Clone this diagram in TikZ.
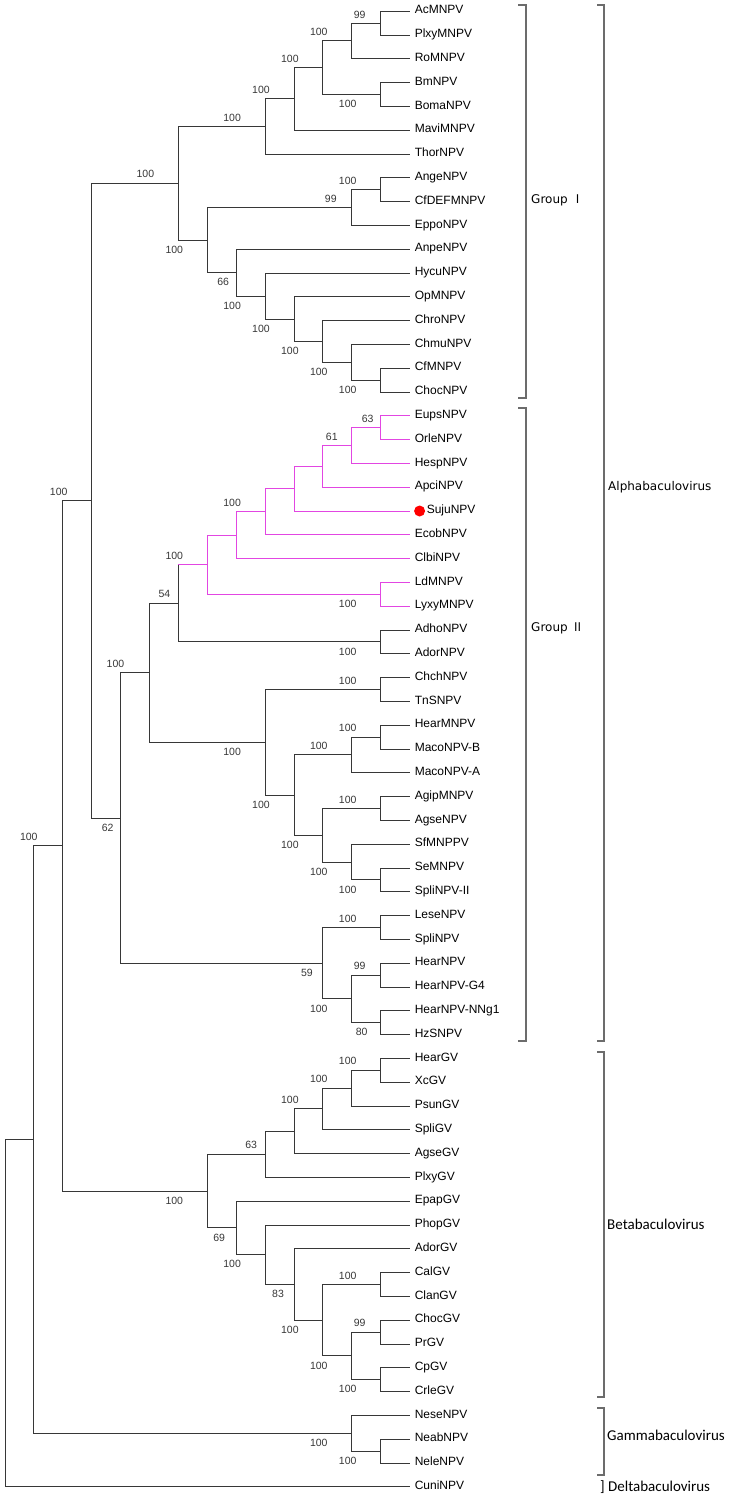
\documentclass[tikz,border=0pt]{standalone}
\usepackage{fontspec}
\setmainfont{Liberation Sans}
\newfontfamily\grpfont{DejaVu Sans}
\newfontfamily\genfont{Carlito}
\newfontfamily\cjkfont{Noto Sans CJK SC}
\definecolor{clade}{RGB}{226,70,226}
\definecolor{branch}{RGB}{55,55,55}
\begin{document}
\begin{tikzpicture}[
    br/.style={draw=branch, line width=1pt},
    mag/.style={draw=clade, line width=1pt},
    leaflbl/.style={anchor=mid west, inner sep=0pt, font=\fontsize{12}{12}\selectfont},
    bsl/.style={inner sep=0pt, text=branch, font=\fontsize{10.5}{10.5}\selectfont},
    bracket/.style={draw=gray!85!black, line width=1.2pt},
    grp/.style={anchor=west, inner sep=0pt, font=\grpfont\fontsize{12}{12}\selectfont},
    gen/.style={anchor=west, inner sep=0pt, font=\genfont\fontsize{15}{15}\selectfont}]
  \useasboundingbox (0pt,0pt) rectangle (732pt,-1497pt);
  \begin{scope}[x=28.9pt, y=-23.8pt, shift={(5pt,-11.2pt)}]
    \foreach \t [count=\i from 0] in {AcMNPV,PlxyMNPV,RoMNPV,BmNPV,BomaNPV,MaviMNPV,ThorNPV,AngeNPV,CfDEFMNPV,EppoNPV,AnpeNPV,HycuNPV,OpMNPV,ChroNPV,ChmuNPV,CfMNPV,ChocNPV,
        EupsNPV,OrleNPV,HespNPV,ApciNPV,SujuNPV,EcobNPV,ClbiNPV,LdMNPV,LyxyMNPV,AdhoNPV,AdorNPV,ChchNPV,TnSNPV,HearMNPV,MacoNPV-B,MacoNPV-A,AgipMNPV,AgseNPV,SfMNPPV,SeMNPV,SpliNPV-II,LeseNPV,SpliNPV,HearNPV,HearNPV-G4,HearNPV-NNg1,HzSNPV,
        HearGV,XcGV,PsunGV,SpliGV,AgseGV,PlxyGV,EpapGV,PhopGV,AdorGV,CalGV,ClanGV,ChocGV,PrGV,CpGV,CrleGV,NeseNPV,NeabNPV,NeleNPV,CuniNPV} {
      \pgfmathsetmacro\dx{\i==21 ? 17 : 5}
      \coordinate (l\i) at (14,\i);
      \node[leaflbl] (t\i) at ([xshift=\dx pt]l\i) {\t};
    }
    \node[circle, fill=red, minimum size=11pt, inner sep=0pt] (dot) at ([xshift=10pt]l21) {};
    % inner nodes: level, leaf row
    \foreach \n/\x/\y in {a1/13/0.5, a2/12/1.25, a3/13/3.5, a4/11/2.375, a5/10/3.6875, a6/9/4.84375, a7/13/7.5, a8/12/8.25,
        a9/13/15.5, a10/12/14.75, a11/11/13.875, a12/10/12.9375, a13/9/11.96875, a14/8/10.984375, a15/7/9.6171875, a16/6/7.23046875,
        b1/13/17.5, b2/12/18.25, b3/11/19.125, b4/10/20.0625, b5/9/21.03125, b6/8/22.015625, b7/13/24.5, b8/7/23.2578125,
        b9/13/26.5, b10/6/24.87890625, b11/13/28.5, b12/13/30.5, b13/12/31.25, b14/13/33.5, b15/13/36.5, b16/12/35.75,
        b17/11/34.625, b18/10/32.9375, b19/9/30.71875, b20/5/27.798828, b21/13/38.5, b22/13/40.5, b23/13/42.5, b24/12/41.5,
        b25/11/40, b26/4/33.899414, r3/3/20.564941,
        c1/13/44.5, c2/12/45.25, c3/11/46.125, c4/10/47.0625, c5/9/48.03125, c6/13/53.5, c7/13/55.5, c8/13/57.5, c9/12/56.5,
        c10/11/55, c11/10/53.5, c12/9/52.25, c13/8/51.125, c14/7/49.578125, d1/13/60.5, d2/12/59.75,
        r2/2/35.071533, r1/1/47.410767, r0/0/54.705383}
      \coordinate (\n) at (\x,\y);
    \foreach \p/\c in {a1/l0, a1/l1, a2/a1, a2/l2, a3/l3, a3/l4, a4/a2, a4/a3, a5/a4, a5/l5, a6/a5, a6/l6, a7/l7, a7/l8, a8/a7, a8/l9,
        a9/l15, a9/l16, a10/l14, a10/a9, a11/l13, a11/a10, a12/l12, a12/a11, a13/l11, a13/a12, a14/l10, a14/a13, a15/a8, a15/a14, a16/a6, a16/a15,
        b9/l26, b9/l27, b10/b9, b11/l28, b11/l29, b12/l30, b12/l31, b13/b12, b13/l32, b14/l33, b14/l34, b15/l36, b15/l37, b16/l35, b16/b15,
        b17/b14, b17/b16, b18/b13, b18/b17, b19/b11, b19/b18, b20/b10, b20/b19, b21/l38, b21/l39, b22/l40, b22/l41, b23/l42, b23/l43,
        b24/b22, b24/b23, b25/b21, b25/b24, b26/b20, b26/b25, r3/a16, r3/b26,
        c1/l44, c1/l45, c2/c1, c2/l46, c3/c2, c3/l47, c4/c3, c4/l48, c5/c4, c5/l49, c6/l53, c6/l54, c7/l55, c7/l56, c8/l57, c8/l58,
        c9/c7, c9/c8, c10/c6, c10/c9, c11/l52, c11/c10, c12/l51, c12/c11, c13/l50, c13/c12, c14/c5, c14/c13,
        d1/l60, d1/l61, d2/l59, d2/d1, r2/r3, r2/c14, r1/r2, r1/d2, r0/r1, r0/l62}
      \draw[br] (\p) |- (\c);
    \foreach \p/\c in {b1/l17, b1/l18, b2/b1, b2/l19, b3/b2, b3/l20, b4/b3, b4/l21, b5/b4, b5/l22, b6/b5, b6/l23, b7/l24, b7/l25, b8/b6, b8/b7}
      \draw[mag] (\p) |- (\c);
    \draw[br] (b10) -- (b10 |- b8);
    \draw[mag] (b10 |- b8) -- (b8);
    % bootstrap values
    \foreach \n/\dx/\dy/\t in {a1/21/8/99, a2/33/9/100, a3/33/-9.5/100, a4/33/9/100, a5/33/9/100, a6/33/9/100, a7/33/9/100, a8/21/9/99,
        a9/33/-9.5/100, a10/33/-9.5/100, a11/33/-9.5/100, a12/33/-9.5/100, a13/33/-9.5/100, a14/13/-9.5/66, a15/33/-9.5/100, a16/33/9/100,
        b1/13/9/63, b2/20/9/61, b5/33/9/100, b7/33/-9.5/100, b8/33/9/100, b9/33/-9.5/100, b10/14/9/54, b11/33/9/100, b12/33/9/100,
        b13/33/9/100, b14/33/9/100, b15/33/-9.5/100, b16/33/-9.5/100, b17/33/-9.5/100, b18/33/-9.5/100, b19/33/-9.5/100, b20/34/9/100,
        b21/33/9/100, b22/21/9/99, b23/19/-9.5/80, b24/33/-9.5/100, b25/16/-9.5/59, b26/13/-9.5/62, r3/33/9/100, r2/34/9/100,
        c1/33/9/100, c2/33/9/100, c3/33/9/100, c5/14/9/63, c6/33/9/100, c7/21/9/99, c8/33/-9.5/100, c9/33/-9.5/100, c10/33/-9.5/100,
        c11/16/-9.5/83, c12/33/-9.5/100, c13/17/-9.5/69, c14/33/-9.5/100, d1/33/-9.5/100, d2/33/-9.5/100}
      \node[bsl] at ([shift={(-\dx pt,\dy pt)}]\n) {\t};
  \end{scope}
  \draw[bracket] (518pt,-5pt) -- (526pt,-5pt) -- (526pt,-398pt) -- (518pt,-398pt);
  \draw[bracket] (518pt,-408pt) -- (526pt,-408pt) -- (526pt,-1041pt) -- (518pt,-1041pt);
  \draw[bracket] (597pt,-5pt) -- (604pt,-5pt) -- (604pt,-1041pt) -- (597pt,-1041pt);
  \draw[bracket] (597pt,-1052pt) -- (604pt,-1052pt) -- (604pt,-1397pt) -- (597pt,-1397pt);
  \draw[bracket] (597pt,-1408pt) -- (604pt,-1408pt) -- (604pt,-1475pt) -- (597pt,-1475pt);
  \node[grp] (g1) at (531pt,-200pt) {Group {\cjkfont Ⅰ}};
  \node[grp] (g2) at (531pt,-628pt) {Group {\cjkfont Ⅱ}};
  \node[grp] (alpha) at (608pt,-487pt) {Alphabaculovirus};
  \node[gen] (beta) at (607pt,-1224pt) {Betabaculovirus};
  \node[gen] (gamma) at (607pt,-1435pt) {Gammabaculovirus};
  \node[gen] (delta) at (600pt,-1487pt) {] Deltabaculovirus};
\end{tikzpicture}
\end{document}
